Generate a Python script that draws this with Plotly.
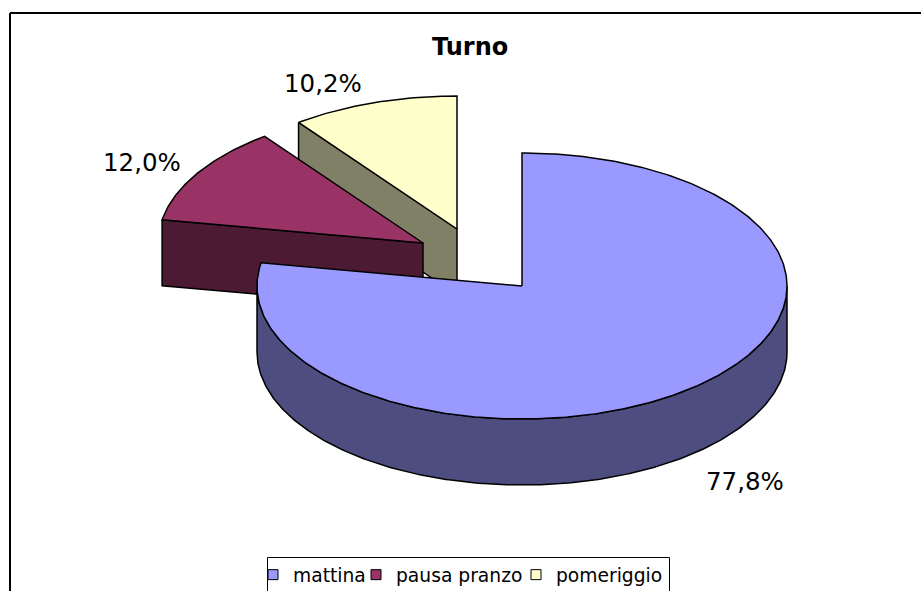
import math
import plotly.graph_objects as go

# Data
categories = ["mattina", "pausa pranzo", "pomeriggio"]
shares = [77.8, 12.0, 10.2]
title_text = "Turno"

# Styles
top_colors = ["#9999FF", "#993366", "#FFFFCC"]
side_colors = ["#4D4D80", "#4D1A33", "#808066"]

# Pie projection, in page pixels
RX, RY, DEPTH = 265, 133, 66
apexes = [(522, 286), (423, 243), (457, 229)]
label_positions = [(745, 481), (142, 162), (323, 83)]
legend_lefts = [253, 356, 516]

W, H = 921, 591


def rim(cx, cy, a0, a1, dy=0):
    n = max(2, int(abs(a1 - a0) * 1.5))
    pts = []
    for i in range(n + 1):
        a = math.radians(a0 + (a1 - a0) * i / n)
        pts.append((cx + RX * math.sin(a), cy - RY * math.cos(a) + dy))
    return pts


def poly(pts, fill):
    xs = [p[0] for p in pts] + [pts[0][0]]
    ys = [p[1] for p in pts] + [pts[0][1]]
    return go.Scatter(x=xs, y=ys, mode="lines", fill="toself", fillcolor=fill,
                      line=dict(color="black", width=1.5), hoverinfo="skip", showlegend=False)


# Slice angles come from the shares, clockwise from 12 o'clock
total = sum(shares)
angles = []
acc = 0.0
for s in shares:
    angles.append((acc * 360 / total, (acc + s) * 360 / total))
    acc += s

fig = go.Figure()

# Back to front: pomeriggio, pausa pranzo, mattina
for idx in [2, 1]:
    a0, a1 = angles[idx]
    cx, cy = apexes[idx]
    p = rim(cx, cy, a0, a0)[0]
    fig.add_trace(poly([p, (cx, cy), (cx, cy + DEPTH), (p[0], p[1] + DEPTH)], side_colors[idx]))
    fig.add_trace(poly([(cx, cy)] + rim(cx, cy, a0, a1), top_colors[idx]))

a0, a1 = angles[0]
cx, cy = apexes[0]
upper = rim(cx, cy, 90, 270)
lower = rim(cx, cy, 270, 90, DEPTH)
fig.add_trace(poly(upper + lower, side_colors[0]))
fig.add_trace(poly([(cx, cy)] + rim(cx, cy, a0, a1), top_colors[0]))

# Legend entries, one positioned legend each so the row spacing matches
legend_ids = ["legend", "legend2", "legend3"]
for name, col, lid in zip(categories, top_colors, legend_ids):
    fig.add_trace(go.Scatter(x=[None], y=[None], mode="markers", name=name, legend=lid,
                             marker=dict(symbol="square", size=10, color=col,
                                         line=dict(color="black", width=1))))

annotations = [dict(x=x, y=y, text=f"{s:.1f}%".replace(".", ","), showarrow=False,
                    font=dict(family="DejaVu Sans", size=24.5, color="black"),
                    xanchor="center", yanchor="middle")
               for (x, y), s in zip(label_positions, shares)]
annotations.append(dict(x=470, y=47, text=f"<b>{title_text}</b>", showarrow=False,
                        font=dict(family="DejaVu Sans", size=24, color="black"),
                        xanchor="center", yanchor="middle"))

frame = dict(color="black", width=2)
shapes = [
    dict(type="line", x0=10, y0=13, x1=W, y1=13, line=frame),
    dict(type="line", x0=10, y0=13, x1=10, y1=H, line=frame),
    dict(type="rect", x0=267.5, y0=557.5, x1=669.5, y1=H + 10, line=dict(color="black", width=1)),
]

legend_layouts = {
    ("legend" if i == 0 else f"legend{i + 1}"): dict(
        x=left / W, xanchor="left",
        y=1 - 575 / H, yanchor="middle",
        font=dict(family="DejaVu Sans", size=18.7, color="black"),
        bgcolor="rgba(0,0,0,0)", borderwidth=0, itemwidth=30)
    for i, left in enumerate(legend_lefts)
}

fig.update_layout(
    width=W, height=H, margin=dict(l=0, r=0, t=0, b=0, autoexpand=False),
    paper_bgcolor="white", plot_bgcolor="white",
    xaxis=dict(range=[0, W], visible=False, fixedrange=True),
    yaxis=dict(range=[H, 0], visible=False, fixedrange=True),
    annotations=annotations, shapes=shapes,
    **legend_layouts,
)
fig.write_html("out.html", config={"displayModeBar": False},
               post_script="document.body.style.margin='0';document.body.style.overflow='hidden';")
